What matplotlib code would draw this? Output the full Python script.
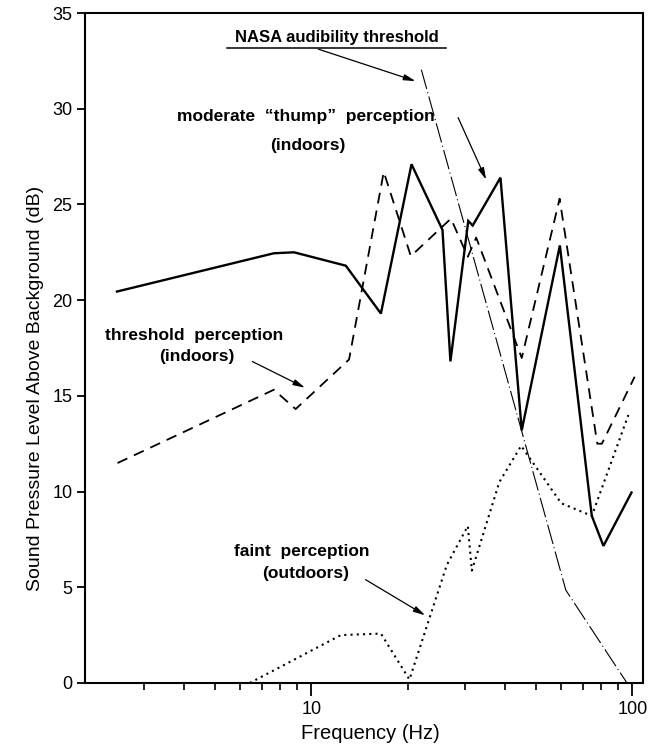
import matplotlib
matplotlib.use("Agg")
import matplotlib.pyplot as plt
from matplotlib.ticker import FixedLocator, NullFormatter

plt.rcParams["font.family"] = ["Liberation Sans", "DejaVu Sans"]

# moderate "thump" perception (indoors) - solid
thump_f = [2.48, 7.64, 8.83, 12.8, 16.46, 20.5, 25.6, 27.1, 30.8, 31.8, 38.8, 45.2, 59.4, 74.7, 81.2, 99.3]
thump_db = [20.45, 22.45, 22.5, 21.8, 19.3, 27.1, 23.67, 16.8, 24.14, 23.9, 26.4, 13.2, 22.86, 8.73, 7.16, 9.95]

# threshold perception (indoors) - dashed
thresh_f = [2.49, 7.64, 8.93, 13.1, 16.8, 20.4, 27.2, 30.7, 32.6, 45.2, 59.3, 77.7, 80.3, 101.6]
thresh_db = [11.49, 15.32, 14.31, 16.9, 26.7, 22.3, 24.26, 22.27, 23.27, 16.98, 25.3, 12.5, 12.5, 16.0]

# faint perception (outdoors) - dotted
faint_f = [6.43, 12.35, 16.46, 20.2, 26.4, 30.7, 31.6, 38.5, 45.0, 60.0, 74.7, 97.1]
faint_db = [0.0, 2.5, 2.58, 0.18, 6.16, 8.2, 5.87, 10.5, 12.39, 9.39, 8.73, 14.0]

# NASA audibility threshold - thin dash-dot
nasa_f = [22.0, 62.0, 95.7]
nasa_db = [32.04, 4.85, 0.05]

fig = plt.figure(figsize=(6.53, 7.46), dpi=100)
ax = fig.add_axes([0.130, 0.0845, 0.855, 0.898])

ax.plot(thump_f, thump_db, color="black", lw=1.7, solid_joinstyle="miter")
ax.plot(thresh_f, thresh_db, color="black", lw=1.3, linestyle=(0, (6, 4)))
ax.plot(faint_f, faint_db, color="black", lw=1.5, linestyle=(0, (1, 2)))
ax.plot(nasa_f, nasa_db, color="black", lw=0.8, linestyle=(0, (18, 3, 1, 3)))

ax.set_xscale("log")
ax.set_xlim(1.97, 108)
ax.set_ylim(0, 35)
ax.set_yticks([0, 5, 10, 15, 20, 25, 30, 35])
ax.xaxis.set_major_locator(FixedLocator([10, 100]))
ax.set_xticklabels(["10", "100"])
ax.xaxis.set_minor_locator(FixedLocator([3, 4, 5, 6, 7, 8, 9, 20, 30, 40, 50, 60, 70, 80, 90]))
ax.xaxis.set_minor_formatter(NullFormatter())
ax.tick_params(axis="both", which="major", direction="out", width=1.3, labelsize=13)
ax.tick_params(axis="x", which="major", length=9, pad=4)
ax.tick_params(axis="y", which="major", length=6, pad=3)
ax.tick_params(axis="x", which="minor", direction="out", length=5, width=1.2)
for s in ax.spines.values():
    s.set_linewidth(1.5)

ax.set_xlabel("Frequency (Hz)", fontsize=14.5)
ax.set_ylabel("Sound Pressure Level Above Background (dB)", fontsize=14)
ax.xaxis.set_label_coords(0.511, -0.061)
ax.yaxis.set_label_coords(-0.073, 0.439)

tkw = dict(fontsize=12.5, fontweight="bold", ha="center", va="center")
akw = dict(arrowstyle="-|>,head_length=0.7,head_width=0.18", color="black", lw=0.9)

# NASA label with underline
ax.text(12.0, 33.74, "NASA audibility threshold", fontsize=12, fontweight="bold",
        ha="center", va="center")
ax.plot([5.47, 26.3], [33.2, 33.2], color="black", lw=1.1)
ax.annotate("", xy=(21.5, 31.4), xytext=(10.31, 33.16), arrowprops=akw)

ax.text(9.6, 29.57, "moderate  \u201cthump\u201d  perception", **tkw)
ax.text(9.75, 28.06, "(indoors)", **tkw)
ax.annotate("", xy=(35.3, 26.16), xytext=(28.4, 29.67), arrowprops=akw)

ax.text(4.3, 18.15, "threshold  perception", **tkw)
ax.text(4.4, 17.07, "(indoors)", **tkw)
ax.annotate("", xy=(9.72, 15.36), xytext=(6.43, 16.86), arrowprops=akw)

ax.text(9.31, 6.86, "faint  perception", **tkw)
ax.text(9.6, 5.73, "(outdoors)", **tkw)
ax.annotate("", xy=(23.0, 3.46), xytext=(14.5, 5.47), arrowprops=akw)

fig.savefig("out.png", dpi=100)
